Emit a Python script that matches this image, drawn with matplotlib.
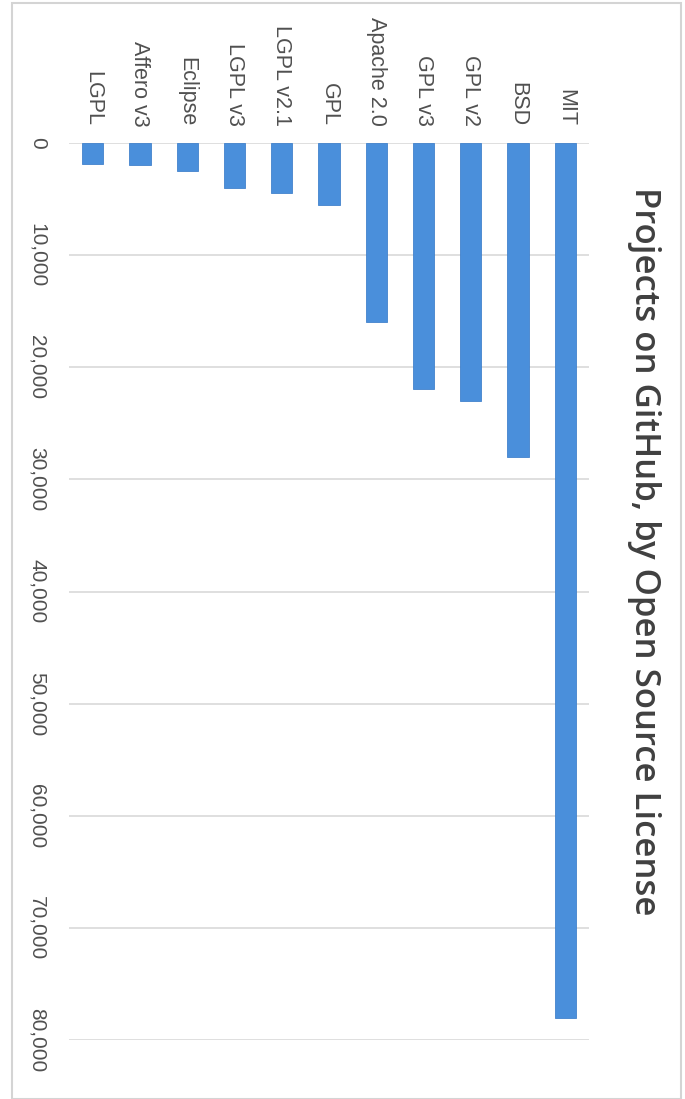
import matplotlib
matplotlib.use("Agg")
import matplotlib.pyplot as plt
from matplotlib.patches import Rectangle
from matplotlib.ticker import FuncFormatter

categories = ["LGPL", "Affero v3", "Eclipse", "LGPL v3", "LGPL v2.1", "GPL",
              "Apache 2.0", "GPL v3", "GPL v2", "BSD", "MIT"]
projects = [1850, 2000, 2500, 4000, 4500, 5500, 16000, 21900, 23000, 28000, 78000]
value_ticks = [0, 10000, 20000, 30000, 40000, 50000, 60000, 70000, 80000]
title = "Projects on GitHub, by Open Source License"

W, H = 685, 1099
fig = plt.figure(figsize=(W / 100, H / 100), dpi=100)
fig.patch.set_facecolor("white")

# axes placement in pixels
left_px, right_px, top_px, bot_px = 69, 589, 143, 1040
ax = fig.add_axes([left_px / W, 1 - bot_px / H, (right_px - left_px) / W, (bot_px - top_px) / H])

x = list(range(len(categories)))
ax.bar(x, projects, width=0.45, color="#4a8fdb", edgecolor="#4282cc", linewidth=0.6, zorder=3)

ax.set_xlim(-0.5, len(categories) - 0.5)
ax.set_ylim(value_ticks[-1], value_ticks[0])
ax.set_yticks(value_ticks)
ax.yaxis.set_major_formatter(FuncFormatter(lambda v, p: f"{int(v):,}"))
ax.grid(axis="y", color="#d9d9d9", linewidth=1.2, zorder=0)
ax.grid(axis="x", visible=False)
for s in ax.spines.values():
    s.set_visible(False)

ax.xaxis.tick_top()
ax.set_xticks(x)
ax.set_xticklabels(categories, rotation=-90, fontsize=15.5, color="#505050",
                   family="Liberation Sans")
ax.tick_params(axis="x", length=0, pad=12)
ax.tick_params(axis="y", length=0, pad=16)
for lab in ax.get_yticklabels():
    lab.set_rotation(-90)
    lab.set_fontsize(15)
    lab.set_color("#505050")
    lab.set_family("Liberation Sans")
    lab.set_va("center")
    lab.set_ha("right")

fig.text(644 / W, 1 - 551 / H, title, rotation=-90, ha="center", va="center",
         fontsize=25, fontweight="semibold", color="#404040", family="Open Sans")

# screenshot border
fig.add_artist(Rectangle((12 / W, 0), (681 - 12) / W, 1 - 3 / H, transform=fig.transFigure,
                         fill=False, edgecolor="#d4d4d4", linewidth=1.5))

fig.savefig("out.png", dpi=100)
